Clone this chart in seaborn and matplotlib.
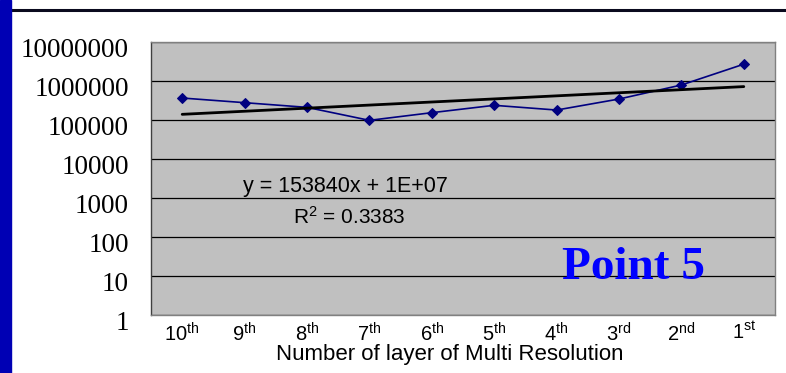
import numpy as np
import pandas as pd
import seaborn as sns
import matplotlib
matplotlib.use('Agg')
import matplotlib.pyplot as plt
import matplotlib.transforms as mtrans
from matplotlib.patches import Rectangle
from matplotlib.lines import Line2D
from matplotlib.ticker import NullLocator

# values
layer_labels = ['10th', '9th', '8th', '7th', '6th', '5th', '4th', '3rd', '2nd', '1st']
values = [366000, 278000, 211000, 98000, 154000, 238000, 180000, 345000, 790000, 2700000]
y_ticks = [1, 10, 100, 1000, 10000, 100000, 1000000, 10000000]
equation_text = 'y = 153840x + 1E+07'
r2_text = 'R$^2$ = 0.3383'
note_text = 'Point 5'

sns.set_style('white')
plt.rcParams['font.family'] = ['Liberation Sans', 'DejaVu Sans']
plt.rcParams['mathtext.fontset'] = 'custom'
plt.rcParams['mathtext.rm'] = 'Liberation Sans'
plt.rcParams['mathtext.it'] = 'Liberation Sans:italic'
plt.rcParams['text.color'] = 'black'
plt.rcParams['axes.labelcolor'] = 'black'
plt.rcParams['xtick.color'] = 'black'
plt.rcParams['ytick.color'] = 'black'

df = pd.DataFrame({'pos': np.arange(len(values)), 'value': values})

fig = plt.figure(figsize=(7.86, 3.73), dpi=100)
ax = fig.add_axes([151 / 786, 1 - 315 / 373, 624 / 786, 273 / 373])
ax.set_facecolor('#C0C0C0')
ax.set_yscale('log')

sns.lineplot(data=df, x='pos', y='value', marker='D', markersize=4.6,
             color='#000080', markeredgecolor='#000080', lw=1.2, ax=ax)

# exponential trend line (straight on the log axis)
coef = np.polyfit(df['pos'], np.log10(df['value']), 1)
trend = 10 ** np.polyval(coef, df['pos'])
sns.lineplot(x=df['pos'], y=trend, color='black', lw=2.0, ax=ax)

ax.set_xlim(-0.5, len(values) - 0.5)
ax.set_ylim(1, 1e7)

# category boundaries as tick marks, labels centred on categories
ax.set_xticks(np.arange(-0.5, len(values), 1))
ax.set_xticklabels([])
ax.set_xticks(df['pos'], minor=True)
ax.set_xticklabels([rf'{s[:-2]}$^{{\mathrm{{{s[-2:]}}}}}$' for s in layer_labels], minor=True)
ax.tick_params(axis='x', which='major', direction='in', length=6, width=1, color='#303030')
ax.tick_params(axis='x', which='minor', length=0, labelsize=14.5, pad=5)

ax.set_yticks(y_ticks)
ax.set_yticklabels([str(v) for v in y_ticks])
ax.yaxis.set_minor_locator(NullLocator())
ax.tick_params(axis='y', direction='in', length=0, pad=16)
shift = mtrans.ScaledTranslation(0, -0.055, fig.dpi_scale_trans)
for lbl in ax.get_yticklabels():
    lbl.set_fontfamily('Liberation Serif')
    lbl.set_fontsize(19.5)
    lbl.set_transform(lbl.get_transform() + shift)

ax.grid(axis='y', color='black', lw=0.9)
ax.set_axisbelow(True)
for sp in ax.spines.values():
    sp.set_color('#808080')
    sp.set_linewidth(1)
ax.spines['left'].set_color('#404040')

ax.set_xlabel('Number of layer of Multi Resolution', fontsize=16)
ax.xaxis.set_label_coords(0.478, -0.108)
ax.set_ylabel('')

ax.text(0.147, 0.45, equation_text, transform=ax.transAxes, fontsize=15.5, va='baseline')
ax.text(0.228, 0.333, r2_text, transform=ax.transAxes, fontsize=15, va='baseline')
ax.text(0.659, 0.132, note_text, transform=ax.transAxes, fontsize=34,
        fontfamily='Liberation Serif', fontweight='bold', color='#0000FF', va='baseline')

# slide frame: blue bar on the left, black rule on top
fig.add_artist(Rectangle((0, 0), 11 / 786, 1, transform=fig.transFigure,
                         color='#0000B4', zorder=5))
fig.add_artist(Line2D([11 / 786, 1], [1 - 9.5 / 373] * 2, color='#0A0A1E',
                      lw=2.2, transform=fig.transFigure))

fig.savefig('out.png', dpi=100)
